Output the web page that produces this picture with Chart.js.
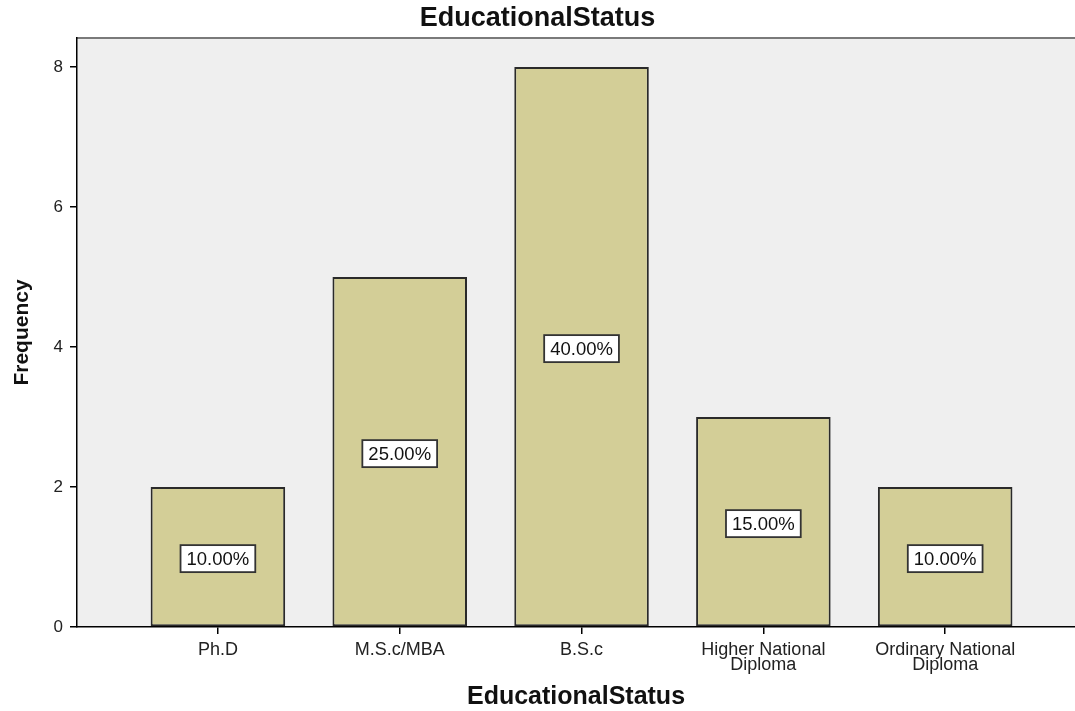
<!DOCTYPE html>
<html>
<head>
<meta charset="utf-8">
<script src="https://cdn.jsdelivr.net/npm/chart.js@4.4.0/dist/chart.umd.min.js"></script>
<style>
  html, body { margin: 0; padding: 0; background: #fff; overflow: hidden; }
  #wrap { width: 1075px; height: 711px; }
</style>
</head>
<body>
<div id="wrap"><canvas id="eduChart"></canvas></div>
<script>
// data
const categories = ["Ph.D", "M.S.c/MBA", "B.S.c", ["Higher National", "Diploma"], ["Ordinary National", "Diploma"]];
const frequencies = [2, 5, 8, 3, 2];
const yTicks = [0, 2, 4, 6, 8];

const total = frequencies.reduce((a, b) => a + b, 0);
const FONT = "'Liberation Sans', Arial, sans-serif";

// grey plot background + top frame line
const plotBg = {
  id: "plotBg",
  beforeDraw(chart) {
    const { ctx, chartArea } = chart;
    ctx.save();
    ctx.fillStyle = "#efefef";
    ctx.fillRect(chartArea.left, chartArea.top, chartArea.right - chartArea.left, chartArea.bottom - chartArea.top);
    ctx.strokeStyle = "#7a7a7a";
    ctx.lineWidth = 2;
    ctx.beginPath();
    ctx.moveTo(chartArea.left, chartArea.top);
    ctx.lineTo(chartArea.right, chartArea.top);
    ctx.stroke();
    ctx.restore();
  }
};

// percentage boxes in the middle of each bar
const pctLabels = {
  id: "pctLabels",
  afterDatasetsDraw(chart) {
    const { ctx } = chart;
    const meta = chart.getDatasetMeta(0);
    ctx.save();
    ctx.font = "18.5px " + FONT;
    ctx.textAlign = "center";
    ctx.textBaseline = "middle";
    meta.data.forEach((bar, i) => {
      const txt = (frequencies[i] / total * 100).toFixed(2) + "%";
      const cy = (bar.y + bar.base) / 2 + 2;
      const w = ctx.measureText(txt).width + 12;
      const h = 27;
      ctx.fillStyle = "#ffffff";
      ctx.fillRect(bar.x - w / 2, cy - h / 2, w, h);
      ctx.strokeStyle = "#333";
      ctx.lineWidth = 1.8;
      ctx.strokeRect(bar.x - w / 2, cy - h / 2, w, h);
      ctx.fillStyle = "#111";
      ctx.fillText(txt, bar.x, cy + 1);
    });
    ctx.restore();
  }
};

const ctx = document.getElementById("eduChart").getContext("2d");

const eduChart = new Chart(ctx, {
  type: "bar",
  data: {
    datasets: [
      {
        label: "Frequency",
        data: frequencies.map((v, i) => ({ x: i + 1, y: v })),
        backgroundColor: "rgb(211, 206, 151)",
        borderColor: "#2a2a2a",
        borderWidth: 2,
        borderSkipped: false,
        barPercentage: 0.74,
        categoryPercentage: 1,
      },
    ],
  },
  options: {
    responsive: true,
    maintainAspectRatio: false,
    animation: false,
    layout: { padding: { top: 0, left: 0, right: 0, bottom: 0 } },
    plugins: {
      legend: { display: false },
      tooltip: { enabled: false },
      title: {
        display: true,
        text: "EducationalStatus",
        color: "#111",
        font: { family: FONT, size: 27, weight: "bold", lineHeight: 1 },
        padding: { top: 5, bottom: 6 },
      },
    },
    scales: {
      x: {
        type: "linear",
        offset: false,
        min: 0.225,
        max: 5.714,
        afterBuildTicks: (scale) => {
          scale.ticks = categories.map((c, i) => ({ value: i + 1 }));
        },
        afterFit: (scale) => {
          scale.height = 84;
        },
        ticks: {
          callback: (v) => categories[v - 1],
          color: "#222",
          font: { family: FONT, size: 18, lineHeight: 0.84 },
          padding: 8,
          maxRotation: 0,
          autoSkip: false,
        },
        grid: {
          offset: false,
          drawOnChartArea: false,
          drawTicks: true,
          tickLength: 7,
          color: "#000",
          lineWidth: 1.5,
        },
        border: { color: "#000", width: 1.5 },
        title: {
          display: true,
          text: "EducationalStatus",
          color: "#111",
          font: { family: FONT, size: 25, weight: "bold", lineHeight: 1 },
          padding: { top: 0, bottom: 1 },
        },
      },
      y: {
        min: 0,
        max: 8.414,
        afterBuildTicks: (scale) => {
          scale.ticks = yTicks.map((v) => ({ value: v }));
        },
        afterFit: (scale) => {
          scale.width = 77;
        },
        ticks: {
          color: "#222",
          font: { family: FONT, size: 17 },
          padding: 7,
        },
        grid: {
          drawOnChartArea: false,
          drawTicks: true,
          tickLength: 7,
          color: "#000",
          lineWidth: 1.5,
        },
        border: { color: "#000", width: 1.5 },
        title: {
          display: true,
          text: "Frequency",
          color: "#111",
          font: { family: FONT, size: 21, weight: "bold", lineHeight: 1 },
          padding: { top: 12, bottom: 0 },
        },
      },
    },
  },
  plugins: [plotBg, pctLabels],
});
</script>
</body>
</html>
